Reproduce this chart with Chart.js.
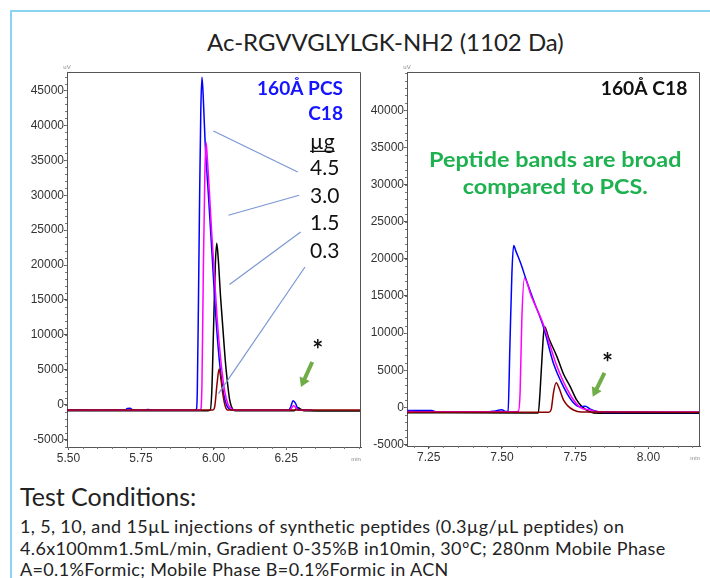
<!DOCTYPE html>
<html>
<head>
<meta charset="utf-8">
<script src="https://cdn.jsdelivr.net/npm/chart.js@4.4.1/dist/chart.umd.min.js"></script>
<style>
body{margin:0;background:#fff;}
#wrap{position:relative;width:710px;height:578px;overflow:hidden;font-family:Lato,"Open Sans",sans-serif;color:#222;}
#frame{position:absolute;left:10px;top:10px;width:760px;height:640px;border-left:2px solid #8ad3f1;border-top:2px solid #8ad3f1;}
#title{position:absolute;left:207px;top:27.6px;font-size:24px;line-height:1.2;white-space:nowrap;}
canvas{position:absolute;}
#pcs{left:0;top:60px;}
#c18{left:370px;top:60px;}
#cond{position:absolute;left:20px;top:481px;font-size:25px;line-height:1.2;white-space:nowrap;}
#condText{position:absolute;left:20px;top:516px;font-size:18px;line-height:21.6px;letter-spacing:0.35px;white-space:nowrap;}
</style>
</head>
<body>
<div id="wrap">
<div id="frame"></div>
<div id="title">Ac-RGVVGLYLGK-NH2 (1102 Da)</div>
<canvas id="pcs" width="370" height="420"></canvas>
<canvas id="c18" width="340" height="420"></canvas>
<div id="cond">Test Conditions:</div>
<div id="condText">1, 5, 10, and 15µL injections of synthetic peptides (0.3µg/µL peptides) on<br>4.6x100mm1.5mL/min, Gradient 0-35%B in10min, 30°C; 280nm Mobile Phase<br>A=0.1%Formic; Mobile Phase B=0.1%Formic in ACN</div>
</div>
<script>
// tick labels
const pcsXTicks=[5.50,5.75,6.00,6.25];
const pcsYTicks=[-5000,0,5000,10000,15000,20000,25000,30000,35000,40000,45000];
const c18XTicks=[7.25,7.50,7.75,8.00];
const c18YTicks=[-5000,0,5000,10000,15000,20000,25000,30000,35000,40000];

// load series (µg on column)
const loads=["4.5","3.0","1.5","0.3"];

// 160Å PCS C18 traces [min, uV]
const pcs45=[[5.495,-780],[5.60,-790],[5.695,-780],[5.703,-560],[5.712,-520],[5.722,-760],[5.76,-790],[5.775,-700],[5.785,-760],[5.80,-800],[5.935,-800],[5.941,-650],[5.944,2000],[5.948,15000],[5.952,30000],[5.956,42000],[5.960,46900],[5.964,44500],[5.971,37500],[5.982,30200],[5.996,20700],[6.008,12500],[6.020,6300],[6.032,2200],[6.045,-100],[6.057,-700],[6.067,-800],[6.258,-800],[6.266,-300],[6.274,550],[6.282,200],[6.290,-550],[6.300,-780],[6.340,-800]];
const pcs30=[[5.495,-820],[5.70,-820],[5.955,-820],[5.960,3000],[5.965,20000],[5.970,33000],[5.974,37600],[5.979,35000],[5.986,30200],[5.993,25000],[6.000,20500],[6.012,12500],[6.025,6300],[6.038,2000],[6.050,0],[6.062,-600],[6.072,-820],[6.262,-820],[6.270,-400],[6.276,-150],[6.284,-450],[6.292,-800],[6.340,-820]];
const pcs15=[[5.495,-860],[5.98,-860],[5.988,-800],[5.994,2000],[6.000,11000],[6.006,20000],[6.011,23100],[6.016,21000],[6.024,15500],[6.032,11000],[6.040,6500],[6.047,3500],[6.055,800],[6.065,-600],[6.075,-860],[6.278,-860],[6.286,-550],[6.292,-450],[6.300,-650],[6.310,-860],[6.508,-900]];
const pcs03=[[5.495,-760],[5.998,-760],[6.004,-300],[6.012,3000],[6.019,5100],[6.025,3800],[6.032,1500],[6.040,-200],[6.048,-760],[6.508,-760]];

// 160Å C18 traces [min, uV]
const c1845=[[7.176,-420],[7.26,-430],[7.28,-640],[7.44,-650],[7.47,-520],[7.50,-330],[7.512,-560],[7.521,-500],[7.527,8000],[7.534,18000],[7.540,21800],[7.548,21000],[7.565,19300],[7.580,17500],[7.610,14200],[7.642,10800],[7.676,5900],[7.700,3600],[7.722,1900],[7.745,600],[7.765,100],[7.785,150],[7.800,-200],[7.825,-550],[7.850,-700],[8.176,-700]];
const c1830=[[7.176,-560],[7.30,-600],[7.54,-600],[7.556,-520],[7.562,2000],[7.568,12000],[7.577,17400],[7.600,15000],[7.642,11100],[7.688,5500],[7.733,1700],[7.767,0],[7.800,-350],[7.830,-600],[8.176,-620]];
const c1815=[[7.176,-720],[7.60,-760],[7.624,-760],[7.630,2000],[7.638,7500],[7.645,10900],[7.660,9300],[7.688,6800],[7.710,4500],[7.733,2800],[7.755,1000],[7.773,100],[7.800,-600],[7.830,-800],[8.176,-800]];
const c1803=[[7.176,-640],[7.660,-650],[7.668,-300],[7.676,2000],[7.685,3300],[7.695,2600],[7.710,1000],[7.725,200],[7.744,-350],[7.770,-620],[8.176,-650]];

const colors={"4.5":"#0000ff","3.0":"#ff00ff","1.5":"#000000","0.3":"#8b0000"};

// annotations, in data units
const pcsNotes=[
{t:"160Å PCS",x:6.446,y:45180,font:"bold 18px Lato",c:"#1414ff",a:"right",sx:1.06},
{t:"C18",x:6.446,y:41600,font:"bold 18px Lato",c:"#1414ff",a:"right",sx:1.06},
{t:"µg",x:6.3326,y:37570,font:"21px Lato",c:"#111",a:"left",u:true},
{t:"4.5",x:6.3326,y:33860,font:"21px Lato",c:"#111",a:"left"},
{t:"3.0",x:6.3326,y:29850,font:"21px Lato",c:"#111",a:"left"},
{t:"1.5",x:6.3326,y:25980,font:"21px Lato",c:"#111",a:"left"},
{t:"0.3",x:6.3326,y:21970,font:"21px Lato",c:"#111",a:"left"},
{t:"*",x:6.359,y:7800,font:"bold 26px Lato",c:"#111",a:"center"}
];
const pcsLeaders=[[5.9995,39200,6.290,33330],[6.051,27130,6.295,29990],[6.055,17200,6.300,24730],[6.017,1580,6.315,19720]];
const pcsArrow=[6.340,6100,6.301,2520];

const c18Notes=[
{t:"160Å C18",x:8.133,y:42770,font:"bold 18px Lato",c:"#111",a:"right",sx:1.07},
{t:"Peptide bands are broad",x:7.682,y:33260,font:"bold 20px Lato",c:"#1db14f",a:"center",sx:1.17},
{t:"compared to PCS.",x:7.682,y:29590,font:"bold 20px Lato",c:"#1db14f",a:"center",sx:1.17},
{t:"*",x:7.860,y:5900,font:"bold 26px Lato",c:"#111",a:"center"}
];
const c18Leaders=[];
const c18Arrow=[7.85,4650,7.81,1430];

const el=id=>document.getElementById(id);

const decor={
id:"decor",
afterDraw(chart,args,o){
const ctx=chart.ctx,a=chart.chartArea,sx=chart.scales.x,sy=chart.scales.y;
const px=v=>sx.getPixelForValue(v),py=v=>sy.getPixelForValue(v);
ctx.save();
// box top/right
ctx.strokeStyle="#555";ctx.lineWidth=1;
ctx.beginPath();
ctx.moveTo(Math.round(a.left)+0.5,Math.round(a.top)+0.5);
ctx.lineTo(Math.round(a.right)-0.5,Math.round(a.top)+0.5);
ctx.lineTo(Math.round(a.right)-0.5,Math.round(a.bottom));
ctx.stroke();
// minor ticks
ctx.strokeStyle="#777";
ctx.beginPath();
for(let v=Math.ceil(sx.min/0.05)*0.05;v<=sx.max;v+=0.05){
let x=Math.round(px(v))+0.5;
ctx.moveTo(x,a.bottom);ctx.lineTo(x,a.bottom+2);
}
for(let v=Math.ceil(sy.min/1000)*1000;v<=sy.max;v+=1000){
let y=Math.round(py(v))+0.5;
ctx.moveTo(a.left,y);ctx.lineTo(a.left-2,y);
}
ctx.stroke();
// unit labels
ctx.fillStyle="#888";ctx.font="6px 'Liberation Sans'";
ctx.textAlign="center";ctx.textBaseline="bottom";
ctx.fillText("uV",a.left,a.top-2);
ctx.textBaseline="middle";
ctx.fillText("min",a.right-5,a.bottom+12);
// leader lines
ctx.strokeStyle="#7b97d3";ctx.lineWidth=1.2;
o.leaders.forEach(l=>{
ctx.beginPath();ctx.moveTo(px(l[0]),py(l[1]));ctx.lineTo(px(l[2]),py(l[3]));ctx.stroke();
});
// arrow
const ar=o.arrow;
let x1=px(ar[0]),y1=py(ar[1]),x2=px(ar[2]),y2=py(ar[3]);
let ang=Math.atan2(y2-y1,x2-x1),hl=9;
ctx.strokeStyle="#70ad47";ctx.fillStyle="#70ad47";ctx.lineWidth=4;
ctx.beginPath();ctx.moveTo(x1,y1);ctx.lineTo(x2-hl*0.7*Math.cos(ang),y2-hl*0.7*Math.sin(ang));ctx.stroke();
ctx.beginPath();
ctx.moveTo(x2,y2);
ctx.lineTo(x2-hl*Math.cos(ang)+5.5*Math.sin(ang),y2-hl*Math.sin(ang)-5.5*Math.cos(ang));
ctx.lineTo(x2-hl*Math.cos(ang)-5.5*Math.sin(ang),y2-hl*Math.sin(ang)+5.5*Math.cos(ang));
ctx.closePath();ctx.fill();
// texts
ctx.textBaseline="middle";
o.notes.forEach(n=>{
ctx.save();
ctx.font=n.font;ctx.fillStyle=n.c;ctx.textAlign=n.a;
let x=px(n.x),y=py(n.y);
ctx.translate(x,y);ctx.scale(n.sx||1,1);
ctx.fillText(n.t,0,0);
if(n.u){
let w=ctx.measureText(n.t).width;
ctx.strokeStyle=n.c;ctx.lineWidth=1.3;
ctx.beginPath();ctx.moveTo(0,9);ctx.lineTo(w,9);ctx.stroke();
}
ctx.restore();
});
ctx.restore();
}
};

function axis(ticks,min,max,size,isX,fmt){
return {
type:"linear",min:min,max:max,
afterBuildTicks:s=>{s.ticks=ticks.map(v=>({value:v}));},
afterFit:s=>{if(isX)s.height=size;else s.width=size;},
grid:{display:true,drawOnChartArea:false,drawTicks:true,tickLength:3,color:"#555"},
border:{display:true,color:"#555",width:1},
ticks:{autoSkip:false,maxRotation:0,padding:isX?1:0,color:"#333",font:{family:"'Liberation Sans', Arial",size:12},callback:fmt}
};
}

function build(id,series,xr,yr,xt,yt,yw,xh,padR,notes,leaders,arrow){
const order=["0.3","3.0","4.5","1.5"];
return new Chart(el(id),{
type:"line",
data:{datasets:order.map(k=>({
label:k,
data:series[loads.indexOf(k)].map(p=>({x:p[0],y:p[1]})),
borderColor:colors[k],borderWidth:1.5,pointRadius:0,fill:false,
cubicInterpolationMode:"monotone"
}))},
options:{
responsive:false,animation:false,
layout:{padding:{left:0,top:12,right:padR,bottom:0}},
plugins:{legend:{display:false},tooltip:{enabled:false},decor:{notes:notes,leaders:leaders,arrow:arrow}},
scales:{
x:axis(xt,xr[0],xr[1],xh,true,v=>v.toFixed(2)),
y:axis(yt,yr[0],yr[1],yw,false,v=>String(v))
}
},
plugins:[decor]
});
}

build("pcs",[pcs45,pcs30,pcs15,pcs03],[5.495,6.508],[-6070,47650],pcsXTicks,pcsYTicks,67,33,9,pcsNotes,pcsLeaders,pcsArrow);
build("c18",[c1845,c1830,c1815,c1803],[7.176,8.176],[-5200,45150],c18XTicks,c18YTicks,37,34,10,c18Notes,c18Leaders,c18Arrow);
</script>
</body>
</html>
